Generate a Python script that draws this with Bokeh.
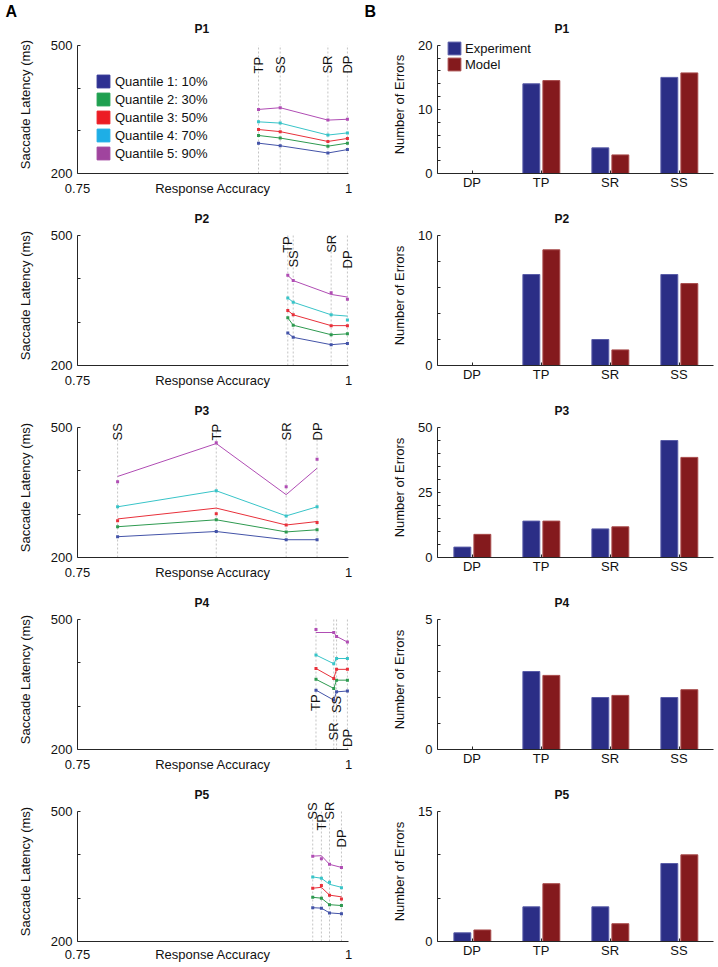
import numpy as np
from bokeh.plotting import figure
from bokeh.layouts import column, row
from bokeh.models import (ColumnDataSource, FixedTicker, LabelSet, Legend,
                          LegendItem, Range1d, Title)
from bokeh.embed import file_html
from bokeh.resources import INLINE
from bokeh.core.properties import value

FONT = "Liberation Sans"

# ---------------- data ----------------
participants = ["P1", "P2", "P3", "P4", "P5"]
panel_letters = ["A", "B"]
conditions = ["DP", "TP", "SR", "SS"]
quantile_names = ["Quantile 1: 10%", "Quantile 2: 30%", "Quantile 3: 50%",
                  "Quantile 4: 70%", "Quantile 5: 90%"]
series_names = ["Experiment", "Model"]
x_title = "Response Accuracy"
y_title_a = "Saccade Latency (ms)"
y_title_b = "Number of Errors"

# response accuracy per condition (DP, TP, SR, SS)
accuracy_p1 = [0.999, 0.917, 0.981, 0.937]
accuracy_p2 = [0.999, 0.944, 0.984, 0.949]
accuracy_p3 = [0.971, 0.878, 0.9425, 0.787]
accuracy_p4 = [0.999, 0.970, 0.9864, 0.989]
accuracy_p5 = [0.9935, 0.975, 0.9825, 0.967]

# saccade latency quantiles (ms), lines: rows = quantiles, cols = DP, TP, SR, SS
latency_line_p1 = [[256, 271, 248, 265], [271, 289, 264, 283], [282, 303, 275, 298],
                   [295, 321, 290, 318], [327, 350, 325, 354]]
latency_line_p2 = [[251, 275, 248, 265], [273, 310, 271, 293], [292, 327, 292, 317],
                   [314, 356, 317, 346], [358, 408, 364, 396]]
latency_line_p3 = [[241, 260, 241, 248], [264, 287, 259, 271], [283, 314, 275, 289],
                   [317, 354, 296, 317], [406, 463, 345, 387]]
latency_line_p4 = [[335, 337, 314, 333], [360, 362, 341, 360], [385, 387, 364, 385],
                   [410, 418, 398, 410], [448, 470, 470, 461]]
latency_line_p5 = [[264, 277, 266, 278], [283, 300, 285, 302], [303, 325, 307, 323],
                   [325, 346, 332, 349], [371, 398, 378, 397]]

# saccade latency quantiles (ms), point markers
latency_dot_p1 = [[256, 271, 248, 265], [271, 289, 264, 283], [282, 303, 275, 298],
                  [295, 321, 290, 318], [327, 350, 325, 354]]
latency_dot_p2 = [[251, 275, 248, 265], [273, 310, 271, 293], [292, 327, 292, 317],
                  [305, 356, 317, 346], [353, 408, 368, 396]]
latency_dot_p3 = [[241, 260, 241, 248], [264, 287, 259, 271], [281, 301, 275, 285],
                  [317, 354, 296, 317], [427, 465, 363, 375]]
latency_dot_p4 = [[335, 337, 314, 333], [360, 362, 341, 360], [385, 387, 364, 385],
                  [410, 418, 398, 410], [448, 477, 470, 461]]
latency_dot_p5 = [[264, 277, 266, 278], [283, 300, 285, 302], [298, 329, 307, 323],
                  [324, 346, 337, 349], [371, 391, 378, 397]]

# number of errors per condition (DP, TP, SR, SS)
errors_exp_p1 = [0, 14, 4, 15]
errors_model_p1 = [0, 14.5, 2.9, 15.7]
errors_exp_p2 = [0, 7, 2, 7]
errors_model_p2 = [0, 8.9, 1.2, 6.3]
errors_exp_p3 = [4, 14, 11, 45]
errors_model_p3 = [8.9, 14, 11.8, 38.5]
errors_exp_p4 = [0, 3, 2, 2]
errors_model_p4 = [0, 2.85, 2.08, 2.3]
errors_exp_p5 = [1, 4, 4, 9]
errors_model_p5 = [1.33, 6.67, 2.05, 10]

# axis settings for the error panels
errors_ymax = [20, 10, 50, 5, 15]
errors_tick_step = [2, 2, 5, 1, 5]
errors_tick_labels = [[0, 10, 20], [0, 10], [0, 25, 50], [0, 5], [0, 15]]

latency_ticks = [200, 300, 400, 500]
latency_tick_labels = [200, 500]
accuracy_lim = [0.75, 1.0]

# ---------------- styling / layout ----------------
accuracy_all = [accuracy_p1, accuracy_p2, accuracy_p3, accuracy_p4, accuracy_p5]
line_all = [latency_line_p1, latency_line_p2, latency_line_p3, latency_line_p4, latency_line_p5]
dot_all = [latency_dot_p1, latency_dot_p2, latency_dot_p3, latency_dot_p4, latency_dot_p5]
exp_all = [errors_exp_p1, errors_exp_p2, errors_exp_p3, errors_exp_p4, errors_exp_p5]
model_all = [errors_model_p1, errors_model_p2, errors_model_p3, errors_model_p4, errors_model_p5]

# vertical placement of the condition labels (bottom of the rotated text, latency units)
label_pos = [[434, 434, 434, 434],
             [424, 460, 460, 426],
             [470, 470, 470, 470],
             [206, 289, 221, 284],
             [417, 456, 481, 481]]

q_line_colors = ["#4353a8", "#2e9a50", "#e8303a", "#38c4c8", "#b04db4"]
q_box_colors = ["#2E3192", "#1FA050", "#EC1C24", "#1EAEE6", "#A0449E"]
exp_color, exp_edge = "#2b2e86", "#5a5da8"
mod_color, mod_edge = "#841a1d", "#a84a4a"
AX = "#262626"
TXT = "#111111"

ROW_H = [200, 192, 192, 192, 190]
TOP = [43, 35, 35, 35, 35]
FRAME_H = 130
EXT = 10          # extra px of plotting area above the axes (titles / labels live there)
A_W, A_LEFT = 363, 77
A_FRAME_W = 271
A_EXT_R = 10
B_W, B_LEFT, B_RIGHT = 353, 74, 3
PX_A = (accuracy_lim[1] - accuracy_lim[0]) / A_FRAME_W


def style(p, x_standoff):
    p.xgrid.visible = False
    p.ygrid.visible = False
    p.outline_line_color = None
    for ax in (p.xaxis[0], p.yaxis[0]):
        ax.axis_line_color = AX
        ax.axis_line_width = 1
        ax.major_tick_line_color = AX
        ax.major_tick_in = 3
        ax.major_tick_out = 0
        ax.minor_tick_in = 0
        ax.minor_tick_out = 0
        ax.major_label_text_font = FONT
        ax.major_label_text_font_size = "13px"
        ax.major_label_text_color = TXT
        ax.axis_label_text_font = FONT
        ax.axis_label_text_font_size = "13px"
        ax.axis_label_text_font_style = "normal"
        ax.axis_label_text_color = TXT
    p.xaxis[0].major_label_standoff = x_standoff
    p.yaxis[0].major_label_standoff = 5


def panel_title(p, i, letter, letter_offset):
    name = participants[i]
    if i == 0:
        p.title.text = letter
        p.title.align = "left"
        p.title.offset = letter_offset
        p.title.text_font = FONT
        p.title.text_font_size = "16px"
        p.title.text_font_style = "bold"
        p.title.text_color = "black"
        p.title.standoff = 0
        p.add_layout(Title(text=name, align="left", offset=117, text_font=FONT,
                           text_font_size="12px", text_font_style="bold",
                           text_color=TXT, standoff=0), "above")
    else:
        p.title.text = name
        p.title.align = "left"
        p.title.offset = 117
        p.title.text_font = FONT
        p.title.text_font_size = "12px"
        p.title.text_font_style = "bold"
        p.title.text_color = TXT
        p.title.standoff = 0


rows = []
for i, name in enumerate(participants):
    last = i == len(participants) - 1
    bottom = ROW_H[i] - TOP[i] - FRAME_H
    # ---------- panel A ----------
    y0, y1 = latency_ticks[0], latency_ticks[-1]
    x_end = accuracy_lim[1] + A_EXT_R * PX_A
    y_end = y1 + EXT * (y1 - y0) / FRAME_H
    pa = figure(width=A_W, height=ROW_H[i],
                x_range=Range1d(accuracy_lim[0], x_end),
                y_range=Range1d(y0, y_end),
                output_backend="svg", toolbar_location=None,
                min_border_left=A_LEFT, min_border_right=A_W - A_LEFT - A_FRAME_W - A_EXT_R,
                min_border_top=TOP[i] - EXT, min_border_bottom=bottom)
    style(pa, 5 if last else 7)
    panel_title(pa, i, panel_letters[0], -72)
    pa.xaxis[0].bounds = (accuracy_lim[0], accuracy_lim[1])
    pa.yaxis[0].bounds = (y0, y1)
    pa.xaxis[0].major_tick_in = 0
    acc = np.array(accuracy_all[i])
    pa.segment(x0=acc, y0=[y0] * 4, x1=acc, y1=[y1] * 4,
               line_color="#c4c4c4", line_dash="2 2", line_width=1)
    order = np.argsort(acc)
    for q in range(5):
        lat = np.array(line_all[i][q])
        pa.line(acc[order], lat[order], line_color=q_line_colors[q], line_width=1)
        pa.scatter(acc, dot_all[i][q], marker="square", size=3,
                   fill_color=q_line_colors[q], line_color=None)
    mid = (accuracy_lim[0] + accuracy_lim[1]) / 2
    pa.xaxis[0].ticker = FixedTicker(ticks=[accuracy_lim[0], mid, accuracy_lim[1]])
    pa.xaxis[0].major_label_overrides = {accuracy_lim[0]: "0.75", mid: x_title,
                                         accuracy_lim[1]: "1"}
    pa.yaxis[0].ticker = FixedTicker(ticks=latency_ticks)
    pa.yaxis[0].major_label_overrides = {t: ("" if t not in latency_tick_labels else str(t))
                                         for t in latency_ticks}
    pa.yaxis[0].axis_label = y_title_a
    pa.yaxis[0].axis_label_standoff = 15
    src = ColumnDataSource(dict(x=acc, y=label_pos[i], text=conditions))
    pa.add_layout(LabelSet(x="x", y="y", text="text", source=src, angle=np.pi / 2,
                           text_align="left", text_baseline="middle",
                           text_font=value(FONT), text_font_size=value("13px"),
                           text_color=TXT))
    if i == 0:
        items = []
        for q in range(5):
            r = pa.quad(left=[np.nan], right=[np.nan], top=[np.nan], bottom=[np.nan],
                        fill_color=q_box_colors[q], line_color=q_box_colors[q], line_width=1)
            items.append(LegendItem(label=quantile_names[q], renderers=[r]))
        leg = Legend(items=items, location=(18, 12), padding=0, margin=0, spacing=2,
                     glyph_width=16, glyph_height=16, label_height=16, label_standoff=4,
                     label_text_font=FONT, label_text_font_size="13px",
                     label_text_color=TXT, border_line_alpha=0, background_fill_alpha=0)
        pa.add_layout(leg)

    # ---------- panel B ----------
    ymax = errors_ymax[i]
    pb = figure(width=B_W, height=ROW_H[i], x_range=Range1d(0.5, 4.5),
                y_range=Range1d(0, ymax + EXT * ymax / FRAME_H),
                output_backend="svg", toolbar_location=None,
                min_border_left=B_LEFT, min_border_right=B_RIGHT,
                min_border_top=TOP[i] - EXT, min_border_bottom=bottom)
    style(pb, 1)
    panel_title(pb, i, panel_letters[1], -73)
    pb.yaxis[0].bounds = (0, ymax)
    xc = np.arange(1, len(conditions) + 1)
    r_exp = pb.vbar(x=xc - 0.14, width=0.245, top=exp_all[i], bottom=0,
                    fill_color=exp_color, line_color=exp_edge, line_width=1)
    r_mod = pb.vbar(x=xc + 0.15, width=0.245, top=model_all[i], bottom=0,
                    fill_color=mod_color, line_color=mod_edge, line_width=1)
    pb.xaxis[0].ticker = FixedTicker(ticks=list(xc))
    pb.xaxis[0].major_label_overrides = {int(k): c for k, c in zip(xc, conditions)}
    ticks = list(range(0, ymax + 1, errors_tick_step[i]))
    pb.yaxis[0].ticker = FixedTicker(ticks=ticks)
    pb.yaxis[0].major_label_overrides = {t: (str(t) if t in errors_tick_labels[i] else "")
                                         for t in ticks}
    pb.yaxis[0].axis_label = y_title_b
    digits = max(len(str(t)) for t in errors_tick_labels[i])
    pb.yaxis[0].axis_label_standoff = 8 + 7 * (2 - digits)
    if i == 0:
        leg = Legend(items=[LegendItem(label=series_names[0], renderers=[r_exp]),
                            LegendItem(label=series_names[1], renderers=[r_mod])],
                     location=(9, 101), padding=0, margin=0, spacing=0,
                     glyph_width=16, glyph_height=16, label_height=16, label_standoff=3,
                     label_text_font=FONT, label_text_font_size="13px",
                     label_text_color=TXT, border_line_alpha=0, background_fill_alpha=0)
        pb.add_layout(leg)
    rows.append(row(pa, pb))

layout = column(*rows)
open("out.html", "w").write(file_html(layout, INLINE))
